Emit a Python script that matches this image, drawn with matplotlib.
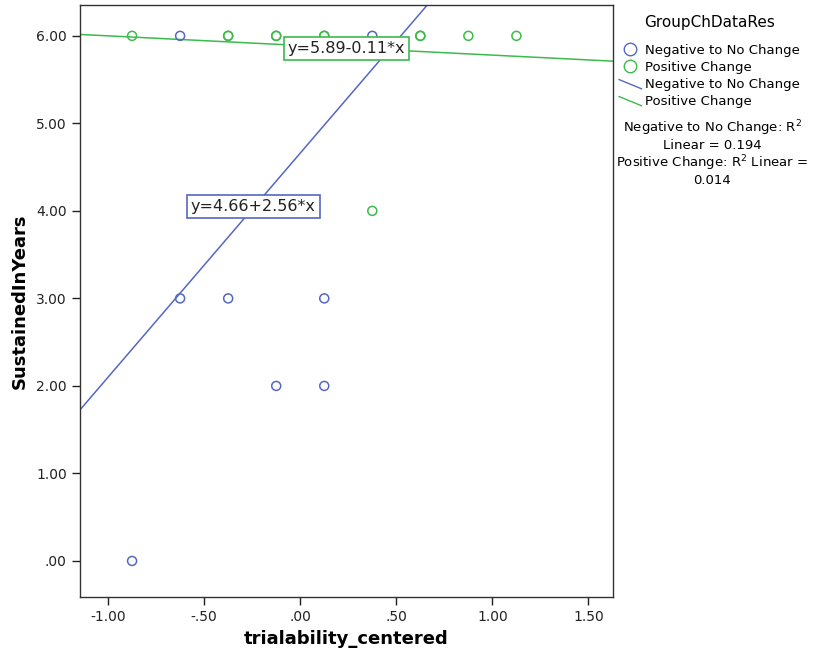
import numpy as np
import matplotlib.pyplot as plt
from matplotlib.lines import Line2D
from matplotlib.legend_handler import HandlerBase
from matplotlib.ticker import FuncFormatter

# data (overlapping circles drawn twice)
neg_x = [-0.625, 0.375, -0.625, -0.375, 0.125, -0.125, 0.125, -0.875]
neg_y = [6, 6, 3, 3, 3, 2, 2, 0]
pos_x = [-0.875, -0.375, -0.375, -0.125, -0.125, 0.125, 0.125, 0.625, 0.625, 0.875, 1.125, 0.375]
pos_y = [6, 6, 6, 6, 6, 6, 6, 6, 6, 6, 6, 4]

# fit lines as printed on the chart
neg_fit = (4.66, 2.56)
pos_fit = (5.89, -0.11)
r2_neg = 0.194
r2_pos = 0.014

blue = '#5468c0'
green = '#3dba4c'


def fmt(v, pos):
    s = f"{v:.2f}"
    s = s.replace("0.", ".") if abs(v) < 1 else s
    return s


class HandlerDiag(HandlerBase):
    def create_artists(self, legend, orig_handle, xdescent, ydescent,
                       width, height, fontsize, trans):
        ln = Line2D([-xdescent, -xdescent + width], [height * 0.9, -0.1 * height],
                    color=orig_handle.get_color(), lw=1)
        ln.set_transform(trans)
        return [ln]


fig = plt.figure(figsize=(8.13, 6.53), dpi=100)
ax = fig.add_axes([0.0984, 0.086, 0.655, 0.906])

xlim = (-1.146, 1.625)
ax.set_xlim(*xlim)
ax.set_ylim(-0.41, 6.35)

ax.scatter(neg_x, neg_y, s=42, facecolors='none', edgecolors=blue, linewidths=1.1, zorder=3)
ax.scatter(pos_x, pos_y, s=42, facecolors='none', edgecolors=green, linewidths=1.1, zorder=3)

xs = np.array(xlim)
ax.plot(xs, neg_fit[0] + neg_fit[1] * xs, color=blue, lw=1.1, zorder=2)
ax.plot(xs, pos_fit[0] + pos_fit[1] * xs, color=green, lw=1.1, zorder=2)

ax.text(-0.245, 4.05, f"y={neg_fit[0]:.2f}+{neg_fit[1]:.2f}*x", fontsize=11.5,
        ha='center', va='center', color='#222222', zorder=5,
        bbox=dict(boxstyle='square,pad=0.25', fc='white', ec=blue, lw=1.2))
ax.text(0.24, 5.85, f"y={pos_fit[0]:.2f}-{abs(pos_fit[1]):.2f}*x", fontsize=11.5,
        ha='center', va='center', color='#222222', zorder=5,
        bbox=dict(boxstyle='square,pad=0.25', fc='white', ec=green, lw=1.2))

ax.set_xticks([-1.0, -0.5, 0.0, 0.5, 1.0, 1.5])
ax.set_yticks([0, 1, 2, 3, 4, 5, 6])
ax.xaxis.set_major_formatter(FuncFormatter(fmt))
ax.yaxis.set_major_formatter(FuncFormatter(fmt))
ax.tick_params(direction='out', length=6, width=1, labelsize=10, colors='#222222')
for sp in ax.spines.values():
    sp.set_color('#333333')
    sp.set_linewidth(1)

ax.set_xlabel('trialability_centered', fontsize=13, fontweight='bold', labelpad=4)
ax.set_ylabel('SustainedInYears', fontsize=13, fontweight='bold', labelpad=5)

handles = [
    Line2D([], [], marker='o', ls='none', mfc='none', mec=blue, ms=9),
    Line2D([], [], marker='o', ls='none', mfc='none', mec=green, ms=9),
    Line2D([], [], color=blue),
    Line2D([], [], color=green),
]
labels = ['Negative to No Change', 'Positive Change',
          'Negative to No Change', 'Positive Change']
leg = fig.legend(handles, labels, title='GroupChDataRes', loc='upper left',
                 bbox_to_anchor=(0.755, 0.985), frameon=False, fontsize=9.5,
                 title_fontsize=11, handlelength=1.7, handletextpad=0.3,
                 labelspacing=0.3, borderaxespad=0,
                 handler_map={handles[2]: HandlerDiag(), handles[3]: HandlerDiag()})
leg._legend_box.sep = 10

fig.text(0.876, 0.818,
         "Negative to No Change: R$^2$\nLinear = %.3f\nPositive Change: R$^2$ Linear =\n%.3f" % (r2_neg, r2_pos),
         ha='center', va='top', fontsize=9.5, linespacing=1.1)

fig.savefig('out.png', dpi=100)
